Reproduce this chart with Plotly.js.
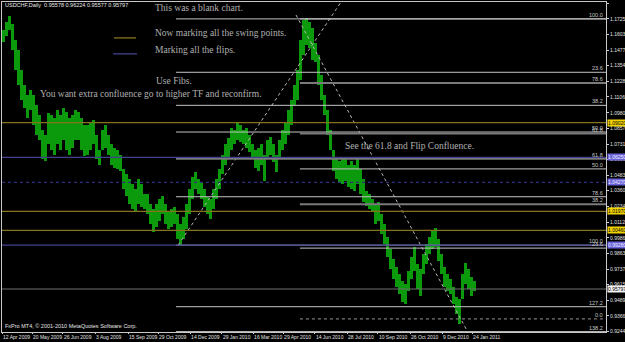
<!DOCTYPE html>
<html>
<head>
<meta charset="utf-8">
<script src="https://cdn.plot.ly/plotly-3.0.1.min.js"></script>
<style>
html,body{margin:0;padding:0;background:#000;}
#chart{width:625px;height:342px;}
</style>
</head>
<body>
<div id="chart"></div>
<script>
// ---- Data (USDCHF daily, sampled every ~3 bars: high / low) ----
const highs = [
1.1638,1.1702,1.1749,1.1686,1.1559,1.1480,1.1322,1.1203,1.1124,1.1163,
1.1124,1.1044,1.0965,1.0846,1.0807,1.0981,1.0965,1.0941,1.1005,1.0965,
1.1021,1.0989,1.0941,1.0965,1.1005,1.0989,1.0941,1.0886,1.0886,1.0910,
1.0926,1.0807,1.0688,1.0846,1.0886,1.0807,1.0728,1.0704,1.0688,1.0648,
1.0530,1.0490,1.0450,1.0411,1.0371,1.0450,1.0411,1.0332,1.0332,1.0252,
1.0213,1.0252,1.0292,1.0316,1.0252,1.0197,1.0213,1.0229,1.0173,1.0094,
1.0149,1.0252,1.0371,1.0466,1.0506,1.0450,1.0427,1.0371,1.0308,1.0292,
1.0371,1.0450,1.0530,1.0648,1.0728,1.0783,1.0862,1.0846,1.0902,1.0886,
1.0846,1.0862,1.0807,1.0728,1.0688,1.0704,1.0728,1.0648,1.0767,1.0791,
1.0728,1.0648,1.0767,1.0846,1.0902,1.1005,1.1084,1.1203,1.1322,1.1559,
1.1718,1.1733,1.1702,1.1654,1.1535,1.1440,1.1282,1.1124,1.1005,1.0846,
1.0688,1.0609,1.0593,1.0609,1.0625,1.0569,1.0593,1.0569,1.0625,1.0530,
1.0450,1.0355,1.0332,1.0292,1.0252,1.0268,1.0173,1.0094,0.9991,0.9896,
0.9817,0.9753,0.9698,0.9643,0.9619,0.9722,0.9833,0.9912,0.9777,0.9738,
0.9856,0.9936,0.9991,1.0039,1.0062,0.9975,0.9856,0.9753,0.9698,0.9658,
0.9595,0.9516,0.9500,0.9698,0.9785,0.9738,0.9674,0.9643];
const lows = [
1.1543,1.1591,1.1638,1.1480,1.1322,1.1203,1.1084,1.1021,1.0941,1.1005,
1.0886,1.0807,1.0767,1.0609,1.0593,1.0728,1.0688,1.0648,1.0728,1.0688,
1.0767,1.0688,1.0648,1.0704,1.0767,1.0767,1.0688,1.0633,1.0648,1.0688,
1.0728,1.0609,1.0569,1.0688,1.0704,1.0648,1.0569,1.0545,1.0530,1.0514,
1.0371,1.0316,1.0252,1.0213,1.0189,1.0252,1.0229,1.0213,1.0173,1.0094,
1.0031,1.0070,1.0118,1.0173,1.0094,1.0054,1.0070,1.0094,0.9975,0.9928,
0.9975,1.0054,1.0173,1.0292,1.0371,1.0332,1.0292,1.0229,1.0173,1.0134,
1.0213,1.0292,1.0371,1.0490,1.0569,1.0625,1.0688,1.0728,1.0767,1.0751,
1.0728,1.0704,1.0672,1.0609,1.0545,1.0514,1.0569,1.0435,1.0609,1.0648,
1.0585,1.0506,1.0609,1.0688,1.0728,1.0807,1.0886,1.1044,1.1084,1.1242,
1.1440,1.1520,1.1496,1.1401,1.1385,1.1203,1.1084,1.0965,1.0807,1.0688,
1.0514,1.0450,1.0427,1.0411,1.0435,1.0387,1.0371,1.0355,1.0411,1.0332,
1.0268,1.0237,1.0213,1.0197,1.0094,1.0118,1.0015,0.9936,0.9833,0.9738,
0.9658,0.9595,0.9540,0.9476,0.9460,0.9563,0.9658,0.9722,0.9579,0.9524,
0.9698,0.9777,0.9856,0.9896,0.9912,0.9801,0.9698,0.9595,0.9563,0.9540,
0.9460,0.9381,0.9302,0.9500,0.9619,0.9579,0.9524,0.9563];

const dateTickIdx = [-0.5,9.5,19.8,30.5,41.5,51.5,62.2,72.8,83.2,93.2,103.8,114.5,124.8,135.5,146.2,156.2];
const dateTickText = ["12 Apr 2009","20 May 2009","26 Jun 2009","3 Aug 2009","15 Sep 2009","29 Oct 2009",
  "14 Dec 2009","29 Jan 2010","16 Mar 2010","29 Apr 2010","14 Jun 2010","28 Jul 2010",
  "10 Sep 2010","26 Oct 2010","9 Dec 2010","24 Jan 2011"];
const priceTicks = [1.18515,1.17255,1.16030,1.14770,1.13545,1.12285,1.11060,1.09800,1.08575,1.07315,
  1.06090,1.04830,1.03605,1.02345,1.01120,0.99860,0.98635,0.97375,0.96150,0.94890,0.93665,0.92440];

const swingLevels = [1.0902, 1.0197, 1.0046];
const flipLevels = [1.0625, 1.0427, 0.9928];
const bidPrice = 0.95797;

const fibHigh = 1.1726, fib1Low = 0.9928, fib2Low = 0.9342;
const fib1Start = 57.5, fib2Start = 98.8;
const fib1Levels = [0, 23.6, 38.2, 50, 61.8, 78.6, 100, 127.2, 138.2];
const fib2Levels = [0, 23.6, 38.2, 50, 61.8, 78.6, 100];

const trend1X = [58.2, 112.5], trend1Y = [0.9928, 1.1860];
const trend2X = [97.5, 154.2], trend2Y = [1.1757, 0.9262];

const header = "USDCHF,Daily  0.95578 0.96224 0.95577 0.95797";
const footer = "FxPro MT4, \u00a9 2001-2010 MetaQuotes Software Corp.";
const notes = [
  {t:"This was a blank chart.", x:0.250, y:0.982},
  {t:"Now marking all the swing points.", x:0.250, y:0.906},
  {t:"Marking all the flips.", x:0.250, y:0.855},
  {t:"Use Fibs.", x:0.2517, y:0.761},
  {t:"You want extra confluence go to higher TF and reconfirm.", x:0.0596, y:0.722},
  {t:"See the 61.8 and Flip Confluence.", x:0.5646, y:0.565}
];

// ---- Build ----
const xMax = 200.83;
const OLIVE = "#86741c", BLUE = "#42428f";
const narrow = "Liberation Sans Narrow, Liberation Sans, Arial, sans-serif";

const traces = [
  {type:"bar", base: lows, y: highs.map((h,i)=>h - lows[i]), width:0.8,
   marker:{color:"#0b9a0b", line:{width:0}}, hoverinfo:"skip"},
  {type:"scatter", mode:"lines", x:trend1X, y:trend1Y, line:{color:"#b8b8b8", width:1, dash:"dot"}, hoverinfo:"skip"},
  {type:"scatter", mode:"lines", x:trend2X, y:trend2Y, line:{color:"#b8b8b8", width:1, dash:"dot"}, hoverinfo:"skip"}
];

const shapes = [];
const annotations = [];

function hline(y, color, width, dash, x0, xref) {
  shapes.push({type:"line", xref: xref || "paper", yref:"y", x0: x0 === undefined ? 0 : x0, x1: xref === "x" ? xMax : 1,
    y0:y, y1:y, line:{color:color, width:width, dash: dash || "solid"}});
}
function axisBox(y, bg, fg) {
  annotations.push({xref:"paper", yref:"y", x:1, y:y, xanchor:"left", yanchor:"middle", xshift:1,
    text: y.toFixed(5), showarrow:false, bgcolor:bg, borderpad:0,
    font:{family:narrow, size:5, color:fg}});
}
function fibLabel(y, txt) {
  annotations.push({xref:"paper", yref:"y", x:1, y:y, xanchor:"right", yanchor:"bottom", xshift:-1, yshift:-1,
    text: txt, showarrow:false, font:{family:narrow, size:5.5, color:"#c8c8c8"}});
}

// fib retracements
fib1Levels.forEach(r => {
  const p = fibHigh - r/100*(fibHigh - fib1Low);
  const thick = (r === 61.8);
  hline(p, thick ? "#7a7a7a" : "#c4c4c4", thick ? 2 : 1, "solid", fib1Start, "x");
  if (r !== 0) fibLabel(p, r.toFixed(1));
});
fib2Levels.forEach(r => {
  const p = fib2Low + r/100*(fibHigh - fib2Low);
  let col = "#c4c4c4", w = 1, d = "solid";
  if (r === 38.2 || r === 61.8 || r === 78.6) { col = "#7a7a7a"; w = 2; }
  if (r === 0) { col = "#9a9a9a"; d = "dot"; }
  hline(p, col, w, d, fib2Start, "x");
  fibLabel(p, r.toFixed(1));
});

// swing & flip levels
swingLevels.forEach(p => { hline(p, OLIVE, 1.3); axisBox(p, "#f0d400", "#000"); });
flipLevels.forEach((p,i) => { hline(p, i === 1 ? "#30307a" : BLUE, 1.3, i === 1 ? "dot" : "solid"); axisBox(p, "#6a62d8", "#f0f0ff"); });
hline(bidPrice, "#6e6e6e", 1);
axisBox(bidPrice, "#f4f4f4", "#000");

// legend lines
shapes.push({type:"line", xref:"paper", yref:"paper", x0:0.1854, x1:0.2219, y0:0.8912, y1:0.8912, line:{color:OLIVE, width:1.3}});
shapes.push({type:"line", xref:"paper", yref:"paper", x0:0.1838, x1:0.2235, y0:0.8429, y1:0.8429, line:{color:BLUE, width:1.3}});

notes.forEach(n => annotations.push({xref:"paper", yref:"paper", x:n.x, y:n.y, xanchor:"left", yanchor:"middle",
  text:n.t, showarrow:false, font:{family:"Liberation Serif, DejaVu Serif, serif", size:9.5, color:"#b0b0b0"}}));
annotations.push({xref:"paper", yref:"paper", x:0.002, y:0.991, xanchor:"left", yanchor:"middle", text:header,
  showarrow:false, font:{family:narrow, size:5.5, color:"#e8e8e8"}});
annotations.push({xref:"paper", yref:"paper", x:0.002, y:0.018, xanchor:"left", yanchor:"middle", text:footer,
  showarrow:false, font:{family:narrow, size:5.5, color:"#e8e8e8"}});

const layout = {
  width:625, height:342,
  margin:{l:2, r:19, t:2, b:10, pad:0},
  paper_bgcolor:"#000", plot_bgcolor:"#000",
  showlegend:false, bargap:0,
  xaxis:{range:[-0.5, xMax], tickvals:dateTickIdx, ticktext:dateTickText, ticks:"outside", ticklen:1,
    tickangle:0, tickcolor:"#d0d0d0", ticklabelposition:"outside right", showgrid:false, zeroline:false,
    showline:true, mirror:true, linecolor:"#c8c8c8", linewidth:1,
    tickfont:{family:narrow, size:5, color:"#e0e0e0"}, fixedrange:true},
  yaxis:{side:"right", range:[0.9238, 1.18602], tickvals:priceTicks, ticktext:priceTicks.map(v=>v.toFixed(5)),
    ticks:"outside", ticklen:2, tickcolor:"#d0d0d0", showgrid:false, zeroline:false,
    showline:true, mirror:true, linecolor:"#c8c8c8", linewidth:1,
    tickfont:{family:narrow, size:5, color:"#e0e0e0"}, fixedrange:true},
  shapes:shapes, annotations:annotations
};

Plotly.newPlot("chart", traces, layout, {displayModeBar:false, staticPlot:true});
</script>
</body>
</html>
